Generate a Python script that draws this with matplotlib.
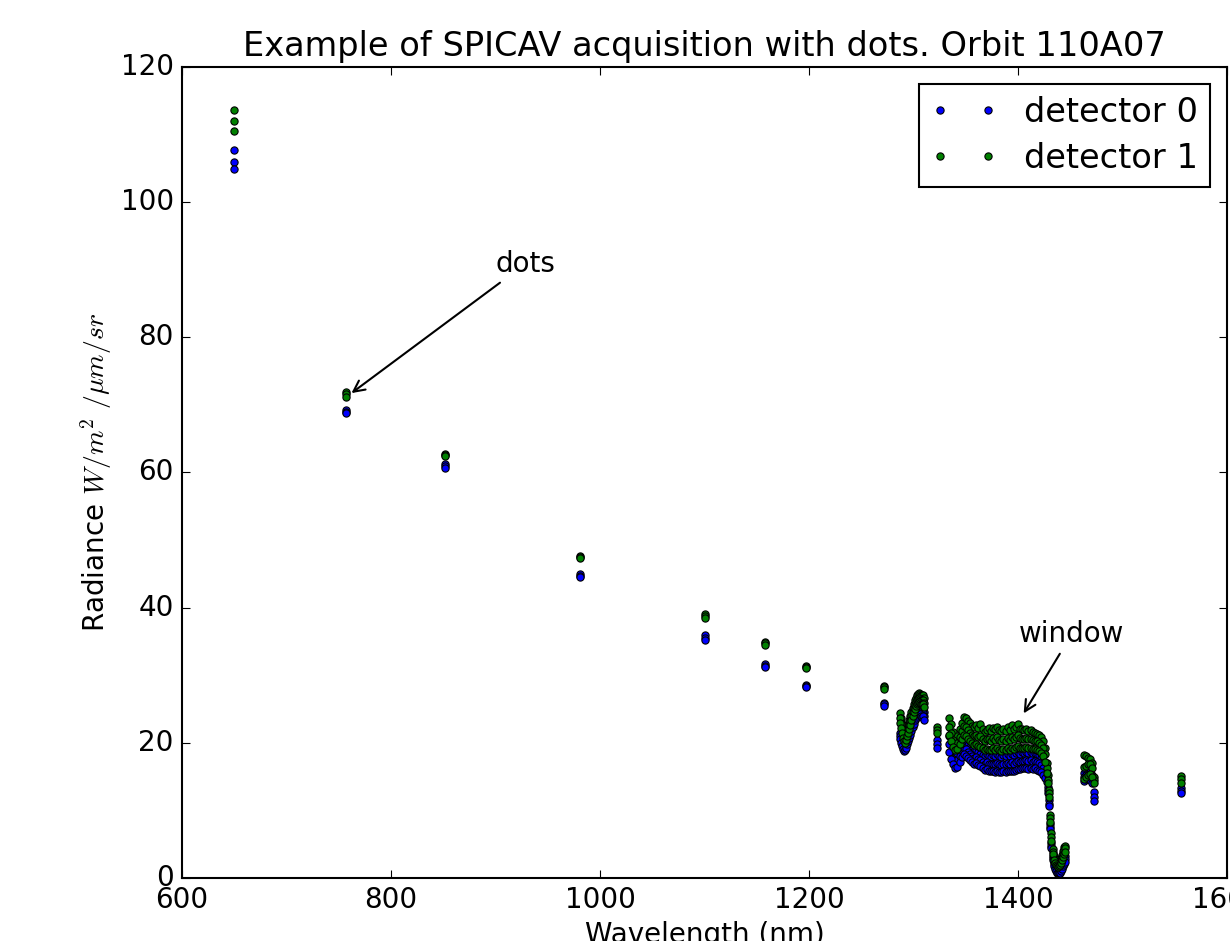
import matplotlib
matplotlib.use("Agg")
import matplotlib.pyplot as plt

plt.style.use("classic")
plt.rcParams["font.size"] = 20
plt.rcParams["font.family"] = ["DejaVu Sans"]

# Wavelengths (nm) of the acquired dots
wavelength = [
    650, 757, 852, 981, 1100, 1158, 1197, 1272,
    1287, 1288, 1289, 1290, 1291, 1292, 1293, 1294, 1295, 1296, 1297, 1298,
    1299, 1300, 1301, 1302, 1303, 1304, 1305, 1306, 1307, 1308, 1309, 1310,
    1322,
    1334, 1336, 1338, 1340, 1342, 1344, 1346, 1348, 1350, 1352, 1354, 1356,
    1358, 1360, 1362, 1364, 1366, 1368, 1370, 1372, 1374, 1376, 1378, 1380,
    1382, 1384, 1386, 1388, 1390, 1392, 1394, 1396, 1398, 1400, 1402, 1404,
    1406, 1408, 1410, 1412, 1414, 1416, 1418, 1420, 1422, 1424, 1426,
    1428, 1429, 1430, 1431, 1432, 1433, 1434, 1435, 1436, 1437, 1438, 1439,
    1440, 1441, 1442, 1443, 1444, 1445,
    1463, 1465, 1467, 1469, 1471, 1473,
    1556,
]

# detector 0, three spectra
det0_a = [
    107.7, 69.3, 61.2, 45.0, 35.9, 31.7, 28.6, 25.9,
    21.5, 21.0, 20.5, 20.0, 19.8, 19.9, 20.3, 20.8, 21.2, 21.7, 22.2, 22.8,
    23.3, 23.8, 24.3, 24.7, 25.0, 25.2, 25.3, 25.2, 25.0, 24.8, 24.9, 24.6,
    20.4,
    21.0, 20.0, 18.8, 18.2, 18.4, 19.2, 20.0, 20.4, 20.2, 19.7, 19.4, 19.0,
    18.8, 19.0, 18.7, 18.4, 18.2, 18.0, 18.3, 18.1, 17.9, 18.2, 18.0, 18.3,
    18.1, 17.9, 18.2, 18.0, 18.3, 18.1, 18.4, 18.2, 18.5, 18.6, 18.4, 18.6,
    18.5, 18.7, 18.5, 18.6, 18.4, 18.5, 18.3, 18.2, 17.8, 17.2, 16.4,
    15.0, 13.5, 11.5, 8.0, 5.2, 3.3, 2.4, 1.9, 1.6, 1.4, 1.3, 1.3,
    1.4, 1.6, 2.0, 2.5, 2.9, 3.2,
    15.6, 15.8, 15.9, 15.7, 15.2, 12.7,
    13.3,
]
det0_b = [
    105.9, 69.0, 60.9, 44.7, 35.5, 31.4, 28.4, 25.7,
    21.0, 20.4, 19.9, 19.5, 19.2, 19.3, 19.7, 20.2, 20.6, 21.1, 21.6, 22.2,
    22.7, 23.3, 23.8, 24.2, 24.5, 24.7, 24.8, 24.7, 24.5, 24.3, 24.4, 24.0,
    19.8,
    19.8, 18.8, 17.6, 17.2, 17.4, 18.1, 18.9, 19.3, 19.1, 18.7, 18.4, 18.0,
    17.8, 17.9, 17.6, 17.4, 17.1, 16.9, 17.1, 16.9, 16.8, 16.9, 16.8, 17.0,
    16.8, 16.7, 16.9, 16.8, 17.0, 16.9, 17.1, 16.9, 17.2, 17.3, 17.2, 17.3,
    17.3, 17.4, 17.3, 17.4, 17.2, 17.3, 17.1, 17.0, 16.7, 16.2, 15.6,
    14.6, 13.0, 11.0, 7.6, 4.8, 3.0, 2.1, 1.6, 1.3, 1.1, 1.0, 1.0,
    1.1, 1.3, 1.6, 2.1, 2.5, 2.8,
    15.0, 15.2, 15.3, 15.1, 14.6, 12.0,
    12.9,
]
det0_c = [
    104.9, 68.8, 60.7, 44.5, 35.2, 31.2, 28.2, 25.4,
    20.6, 20.0, 19.5, 19.1, 18.8, 18.9, 19.3, 19.8, 20.2, 20.7, 21.2, 21.8,
    22.3, 22.8, 23.3, 23.7, 24.0, 24.2, 24.3, 24.2, 24.0, 23.8, 23.9, 23.4,
    19.2,
    18.6, 17.6, 16.8, 16.2, 16.4, 17.2, 17.9, 18.3, 18.1, 17.8, 17.4, 17.1,
    16.9, 17.0, 16.7, 16.6, 16.3, 16.0, 16.1, 15.9, 15.8, 15.8, 15.7, 15.8,
    15.7, 15.7, 15.8, 15.7, 15.9, 15.8, 15.9, 15.8, 16.0, 16.1, 16.1, 16.2,
    16.2, 16.2, 16.1, 16.3, 16.1, 16.2, 16.0, 15.9, 15.7, 15.2, 14.8,
    14.2, 12.6, 10.6, 7.2, 4.5, 2.7, 1.8, 1.3, 1.0, 0.8, 0.7, 0.7,
    0.8, 1.0, 1.3, 1.7, 2.1, 2.4,
    14.4, 14.6, 14.7, 14.5, 14.0, 11.4,
    12.6,
]

# detector 1, three spectra
det1_a = [
    113.6, 71.9, 62.8, 47.7, 39.1, 34.9, 31.4, 28.4,
    24.4, 23.6, 22.8, 22.0, 21.4, 21.2, 21.6, 22.2, 22.8, 23.3, 23.9, 24.6,
    25.2, 25.8, 26.3, 26.7, 27.0, 27.2, 27.3, 27.2, 27.1, 27.0, 27.1, 26.6,
    22.3,
    23.6, 22.8, 21.6, 20.8, 21.0, 22.0, 23.0, 23.8, 23.6, 23.2, 22.9, 22.5,
    22.3, 22.6, 22.2, 22.8, 22.0, 21.6, 21.9, 22.2, 21.8, 22.2, 22.0, 22.3,
    21.9, 21.7, 22.1, 21.8, 22.3, 21.9, 22.6, 22.0, 22.4, 22.8, 22.1, 22.0,
    21.9, 22.0, 21.8, 21.9, 21.6, 21.5, 21.3, 21.2, 20.8, 20.2, 19.2,
    17.0, 15.2, 13.0, 9.3, 6.6, 4.3, 3.3, 2.8, 2.5, 2.3, 2.2, 2.3,
    2.5, 2.9, 3.4, 4.0, 4.6, 4.8,
    18.2, 18.0, 17.8, 17.6, 17.0, 15.0,
    15.1,
]
det1_b = [
    112.0, 71.6, 62.6, 47.5, 38.8, 34.7, 31.2, 28.2,
    23.6, 22.8, 22.0, 21.3, 20.8, 20.6, 21.0, 21.6, 22.1, 22.6, 23.2, 23.9,
    24.5, 25.1, 25.6, 26.0, 26.3, 26.5, 26.6, 26.5, 26.4, 26.3, 26.4, 25.9,
    21.9,
    22.4, 21.5, 20.4, 19.8, 20.0, 20.9, 21.8, 22.5, 22.3, 21.9, 21.5, 21.2,
    21.0, 21.2, 20.8, 21.0, 20.6, 20.3, 20.5, 20.6, 20.3, 20.7, 20.4, 20.8,
    20.4, 20.2, 20.6, 20.3, 20.7, 20.4, 20.8, 20.5, 20.9, 21.1, 20.7, 20.6,
    20.6, 20.7, 20.5, 20.6, 20.4, 20.3, 20.2, 20.0, 19.7, 19.2, 18.3,
    16.2, 14.5, 12.5, 8.8, 6.0, 3.9, 3.0, 2.5, 2.2, 2.0, 1.9, 2.0,
    2.2, 2.5, 3.0, 3.5, 4.1, 4.4,
    16.4, 16.6, 16.9, 16.8, 16.3, 14.5,
    14.6,
]
det1_c = [
    110.5, 71.2, 62.4, 47.3, 38.4, 34.4, 31.0, 27.9,
    23.0, 22.2, 21.4, 20.7, 20.2, 20.0, 20.4, 21.0, 21.5, 22.0, 22.6, 23.3,
    23.9, 24.5, 25.0, 25.4, 25.7, 25.9, 26.0, 25.9, 25.8, 25.7, 25.8, 25.3,
    21.5,
    21.2, 20.3, 19.4, 18.9, 19.1, 19.8, 20.6, 21.2, 21.0, 20.6, 20.2, 19.9,
    19.7, 19.8, 19.5, 19.4, 19.2, 19.0, 19.1, 19.0, 18.9, 19.2, 18.9, 19.3,
    19.0, 18.8, 19.1, 18.9, 19.2, 19.0, 19.3, 19.1, 19.4, 19.5, 19.3, 19.3,
    19.3, 19.4, 19.2, 19.3, 19.1, 19.1, 19.0, 18.8, 18.5, 18.0, 17.2,
    15.6, 14.0, 12.0, 8.3, 5.5, 3.5, 2.7, 2.2, 1.9, 1.7, 1.6, 1.7,
    1.9, 2.2, 2.6, 3.1, 3.6, 3.9,
    14.6, 15.0, 15.3, 15.4, 15.0, 14.0,
    14.1,
]

labels = ["detector 0", "detector 1"]

fig = plt.figure(figsize=(12.3, 9.41), dpi=100)
ax = fig.add_axes([0.148, 0.067, 0.8496, 0.8618])

x_all = wavelength * 3
ax.plot(x_all, det0_a + det0_b + det0_c, "o", color="b", markersize=5.2,
        markeredgewidth=0.8, markeredgecolor="k", label=labels[0])
ax.plot(x_all, det1_a + det1_b + det1_c, "o", color="g", markersize=5.2,
        markeredgewidth=0.8, markeredgecolor="k", label=labels[1])

ax.set_xlim(600, 1600)
ax.set_ylim(0, 120)
ax.set_xticks([600, 800, 1000, 1200, 1400, 1600])
ax.set_yticks([0, 20, 40, 60, 80, 100, 120])
for sp in ax.spines.values():
    sp.set_linewidth(1.5)
ax.tick_params(which="major", direction="in", length=6, width=0.8,
               top=True, right=True, labelsize=20, pad=6)

ax.set_title("Example of SPICAV acquisition with dots. Orbit 110A07",
             fontsize=24.2, pad=plt.rcParams["axes.titlepad"] + 3)
ax.set_xlabel("Wavelength (nm)", fontsize=20)
ax.set_ylabel(r"Radiance $W/m^2\ /\mu m/sr$", fontsize=20)

ax.annotate("dots", xy=(760, 71.5), xytext=(900, 89.7), fontsize=20,
            arrowprops=dict(arrowstyle="->", color="k", lw=1.5))
ax.annotate("window", xy=(1404, 24.0), xytext=(1401, 34.9), fontsize=20,
            arrowprops=dict(arrowstyle="->", color="k", lw=1.5))

leg = ax.legend(loc="upper right", numpoints=2, fontsize=24.2, fancybox=False,
                borderpad=0.35, labelspacing=0.4)
leg.get_frame().set_linewidth(1.5)

fig.savefig("out.png", dpi=100)
